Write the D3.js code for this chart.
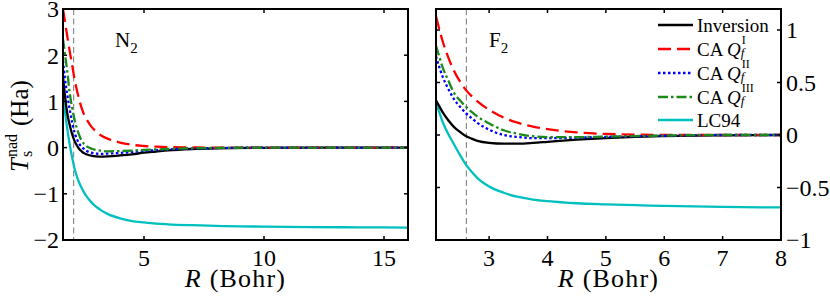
<!DOCTYPE html>
<html lang="en">
<head>
    <meta charset="UTF-8">
    <title>Nonadditive kinetic energy</title>
    <style>
        body {
            margin: 0;
            padding: 0;
            background-color: #fff;
            overflow: hidden;
        }
    </style>
</head>
<body>
    <div id="chart"></div>

    <script src="https://d3js.org/d3.v7.min.js"></script>
    <script>
        // N2 panel data (R in Bohr, T_s^nad in Ha)
        const n2R = [1.625, 1.7, 1.8, 1.9, 2.0, 2.1, 2.2, 2.3, 2.4, 2.5, 2.6, 2.8, 3.0, 3.25, 3.5, 4.0, 4.5, 5.0, 5.5, 6.0, 7.0, 8.0, 10, 12, 14, 16];
        const n2Inversion = [1.55, 1.15, 0.75, 0.5, 0.3, 0.15, 0.05, -0.03, -0.08, -0.12, -0.145, -0.175, -0.19, -0.195, -0.19, -0.17, -0.145, -0.11, -0.085, -0.06, -0.03, -0.015, -0.005, 0, 0, 0];
        const n2CAI = [3.0, 2.75, 2.42, 2.1, 1.8, 1.5, 1.25, 1.04, 0.86, 0.72, 0.62, 0.46, 0.35, 0.25, 0.19, 0.11, 0.06, 0.035, 0.02, 0.01, 0.004, 0, 0, 0, 0, 0];
        const n2CAII = [1.88, 1.52, 1.15, 0.84, 0.56, 0.34, 0.19, 0.08, 0.02, -0.03, -0.07, -0.11, -0.13, -0.135, -0.13, -0.115, -0.095, -0.07, -0.055, -0.04, -0.02, -0.01, 0, 0, 0, 0];
        const n2CAIII = [2.35, 2.05, 1.66, 1.2, 0.88, 0.62, 0.42, 0.27, 0.15, 0.08, 0.03, -0.02, -0.05, -0.07, -0.08, -0.075, -0.065, -0.05, -0.04, -0.03, -0.015, -0.007, 0, 0, 0, 0];
        const n2LC94 = [1.1, 0.8, 0.42, 0.08, -0.2, -0.44, -0.62, -0.76, -0.87, -0.97, -1.05, -1.18, -1.28, -1.37, -1.44, -1.53, -1.59, -1.62, -1.645, -1.66, -1.68, -1.695, -1.71, -1.72, -1.725, -1.73];

        // F2 panel data
        const f2R = [2.09, 2.15, 2.2, 2.3, 2.4, 2.5, 2.6, 2.7, 2.8, 3.0, 3.25, 3.5, 3.75, 4.0, 4.5, 5.0, 5.5, 6.0, 7.0, 8.0];
        const f2Inversion = [0.33, 0.27, 0.22, 0.14, 0.075, 0.03, -0.01, -0.035, -0.055, -0.075, -0.083, -0.082, -0.075, -0.065, -0.045, -0.03, -0.018, -0.01, -0.003, 0];
        const f2CAI = [1.13, 1.0, 0.9, 0.74, 0.61, 0.51, 0.43, 0.37, 0.32, 0.24, 0.165, 0.115, 0.08, 0.055, 0.025, 0.01, 0.004, 0, 0, 0];
        const f2CAII = [0.75, 0.64, 0.56, 0.44, 0.34, 0.27, 0.21, 0.16, 0.115, 0.05, 0.0, -0.02, -0.03, -0.03, -0.025, -0.018, -0.012, -0.007, 0, 0];
        const f2CAIII = [0.85, 0.74, 0.65, 0.52, 0.40, 0.33, 0.27, 0.22, 0.175, 0.11, 0.045, 0.01, -0.012, -0.02, -0.02, -0.015, -0.01, -0.005, 0, 0];
        const f2LC94 = [0.31, 0.21, 0.13, 0.01, -0.09, -0.19, -0.28, -0.35, -0.41, -0.49, -0.55, -0.59, -0.615, -0.63, -0.65, -0.66, -0.668, -0.675, -0.685, -0.69];

        // equilibrium bond lengths (dashed markers)
        const n2Req = 2.07;
        const f2Req = 2.61;

        // tick values
        const n2XTicks = [5, 10, 15];
        const n2YTicks = [-2, -1, 0, 1, 2, 3];
        const f2XTicks = [3, 4, 5, 6, 7, 8];
        const f2YTicks = [-1, -0.5, 0, 0.5, 1];

        const seriesNames = ['Inversion', 'CA I', 'CA II', 'CA III', 'LC94'];

        // line styles per series
        const styles = [
            { color: '#000000', dash: null },
            { color: '#ff0000', dash: '13,6' },
            { color: '#0000ff', dash: '2.5,2.5' },
            { color: '#1a8a1a', dash: '10,3,2.5,3' },
            { color: '#00bfbf', dash: null }
        ];

        const width = 830, height = 299;
        const plotTop = 9, plotBottom = 240;
        const serif = "'Liberation Serif', 'DejaVu Serif', serif";

        const svg = d3.select('#chart')
            .append('svg')
            .attr('width', width)
            .attr('height', height)
            .attr('font-family', serif);

        svg.append('rect').attr('width', width).attr('height', height).attr('fill', '#fff');

        const fmt = d3.format('~g');

        function drawPanel(opts) {
            const x = d3.scaleLinear().domain(opts.xDomain).range([opts.left, opts.right]);
            const y = d3.scaleLinear().domain(opts.yDomain).range([plotBottom, plotTop]);

            const clipId = 'clip-' + opts.name;
            svg.append('clipPath').attr('id', clipId)
                .append('rect')
                .attr('x', opts.left).attr('y', plotTop)
                .attr('width', opts.right - opts.left).attr('height', plotBottom - plotTop);

            // dashed marker at equilibrium distance
            svg.append('line')
                .attr('x1', x(opts.req)).attr('x2', x(opts.req))
                .attr('y1', plotTop).attr('y2', plotBottom)
                .attr('stroke', '#777')
                .attr('stroke-width', 1)
                .attr('stroke-dasharray', '6,3.5');

            const line = d3.line()
                .x(d => x(d[0]))
                .y(d => y(d[1]))
                .curve(d3.curveMonotoneX);

            // draw LC94 first, inversion on top like the original
            const order = [4, 0, 1, 2, 3];
            const g = svg.append('g').attr('clip-path', `url(#${clipId})`);
            order.forEach(i => {
                const pts = opts.R.map((r, j) => [r, opts.series[i][j]]);
                g.append('path')
                    .datum(pts)
                    .attr('fill', 'none')
                    .attr('stroke', styles[i].color)
                    .attr('stroke-width', 2.3)
                    .attr('stroke-dasharray', styles[i].dash)
                    .attr('d', line);
            });

            // frame
            svg.append('rect')
                .attr('x', opts.left).attr('y', plotTop)
                .attr('width', opts.right - opts.left).attr('height', plotBottom - plotTop)
                .attr('fill', 'none')
                .attr('stroke', '#000')
                .attr('stroke-width', 2);

            // inward ticks on all four sides
            const tickLen = 4;
            const ticks = svg.append('g').attr('stroke', '#000').attr('stroke-width', 1.5);
            opts.xTicks.forEach(t => {
                if (t <= opts.xDomain[0] || t >= opts.xDomain[1]) return;
                ticks.append('line').attr('x1', x(t)).attr('x2', x(t)).attr('y1', plotBottom).attr('y2', plotBottom - tickLen);
                ticks.append('line').attr('x1', x(t)).attr('x2', x(t)).attr('y1', plotTop).attr('y2', plotTop + tickLen);
            });
            opts.yTicks.forEach(t => {
                if (t <= opts.yDomain[0] || t >= opts.yDomain[1]) return;
                ticks.append('line').attr('x1', opts.left).attr('x2', opts.left + tickLen).attr('y1', y(t)).attr('y2', y(t));
                ticks.append('line').attr('x1', opts.right).attr('x2', opts.right - tickLen).attr('y1', y(t)).attr('y2', y(t));
            });

            // tick labels
            svg.append('g').selectAll('text')
                .data(opts.xTicks)
                .enter().append('text')
                .attr('x', d => x(d))
                .attr('y', 266)
                .attr('text-anchor', 'middle')
                .attr('font-size', '24px')
                .text(d => fmt(d));

            svg.append('g').selectAll('text')
                .data(opts.yTicks)
                .enter().append('text')
                .attr('x', opts.yLabelSide === 'left' ? opts.left - 4 : opts.right + 5)
                .attr('y', d => y(d))
                .attr('dy', '0.35em')
                .attr('text-anchor', opts.yLabelSide === 'left' ? 'end' : 'start')
                .attr('font-size', '24px')
                .text(d => fmt(d));

            // x axis title: R (Bohr)
            const xt = svg.append('text')
                .attr('x', (opts.left + opts.right) / 2)
                .attr('y', 287)
                .attr('text-anchor', 'middle')
                .attr('font-size', '26px')
                .attr('letter-spacing', '1.2px');
            xt.append('tspan').attr('font-style', 'italic').text('R');
            xt.append('tspan').text(' (Bohr)');

            // molecule label
            const ml = svg.append('text')
                .attr('x', opts.labelX)
                .attr('y', 47)
                .attr('font-size', '21px');
            ml.append('tspan').text(opts.molecule);
            ml.append('tspan').attr('font-size', '15px').attr('dy', 6).text('2');

            return { x, y };
        }

        drawPanel({
            name: 'n2', left: 63, right: 408,
            xDomain: [1.625, 16], yDomain: [-2, 3],
            R: n2R, series: [n2Inversion, n2CAI, n2CAII, n2CAIII, n2LC94],
            req: n2Req, xTicks: n2XTicks, yTicks: n2YTicks,
            yLabelSide: 'left', molecule: 'N', labelX: 115
        });

        drawPanel({
            name: 'f2', left: 436, right: 781,
            xDomain: [2.09, 8], yDomain: [-1, 1.2],
            R: f2R, series: [f2Inversion, f2CAI, f2CAII, f2CAIII, f2LC94],
            req: f2Req, xTicks: f2XTicks, yTicks: f2YTicks,
            yLabelSide: 'right', molecule: 'F', labelX: 489
        });

        // y axis title: T_s^nad (Ha), rotated
        const yl = svg.append('g').attr('transform', 'translate(28,172) rotate(-90)');
        yl.append('text').attr('x', 0).attr('y', 0).attr('font-size', '25px').attr('font-style', 'italic').text('T');
        yl.append('text').attr('x', 15).attr('y', -11).attr('font-size', '16px').text('nad');
        yl.append('text').attr('x', 15).attr('y', 4).attr('font-size', '16px').text('s');
        yl.append('text').attr('x', 46).attr('y', 0).attr('font-size', '25px').text('(Ha)');

        // legend
        const legendRows = [25, 49, 73, 97, 120];
        const legend = svg.append('g');
        seriesNames.forEach((name, i) => {
            const ly = legendRows[i];
            legend.append('line')
                .attr('x1', 658).attr('x2', 693)
                .attr('y1', ly).attr('y2', ly)
                .attr('stroke', styles[i].color)
                .attr('stroke-width', 2.3)
                .attr('stroke-dasharray', styles[i].dash);

            const t = legend.append('text')
                .attr('x', 697)
                .attr('y', ly + 7)
                .attr('font-size', '19px');
            if (name.startsWith('CA')) {
                const sup = name.split(' ')[1];
                t.append('tspan').text('CA ');
                t.append('tspan').attr('font-style', 'italic').text('Q');
                const bb = t.node().getComputedTextLength();
                legend.append('text').attr('x', 697 + bb + 1).attr('y', ly - 5)
                    .attr('font-size', '12px').text(sup);
                legend.append('text').attr('x', 697 + bb).attr('y', ly + 8)
                    .attr('font-size', '13px').attr('font-style', 'italic').text('f');
            } else {
                t.text(name);
            }
        });
    </script>
</body>
</html>
